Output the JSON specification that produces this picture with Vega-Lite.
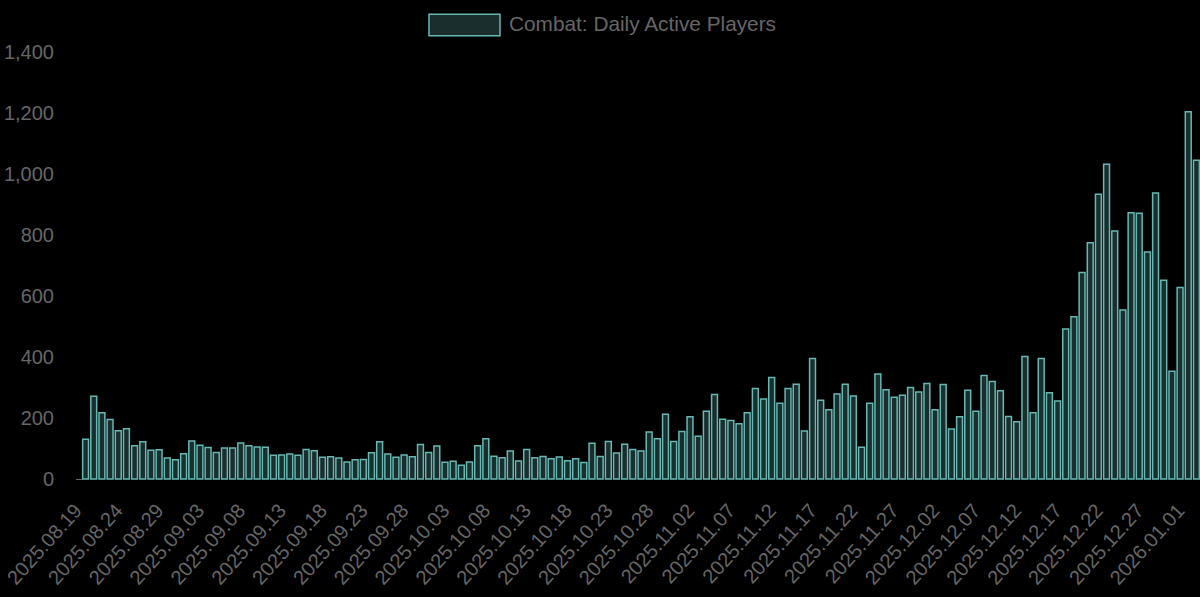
{
  "$schema": "https://vega.github.io/schema/vega-lite/v6.json",
  "width": 1119,
  "height": 427,
  "autosize": "none",
  "padding": {"left": 81.5, "top": 52, "right": 0, "bottom": 118},
  "background": "#000000",
  "config": {"view": {"stroke": null}},
  "data": {"values": [
    {"day":"2025.08.19","players":130},{"day":"2025.08.20","players":271},{"day":"2025.08.21","players":217},{"day":"2025.08.22","players":195},{"day":"2025.08.23","players":158},{"day":"2025.08.24","players":165},{"day":"2025.08.25","players":109},{"day":"2025.08.26","players":122},{"day":"2025.08.27","players":94},{"day":"2025.08.28","players":96},{"day":"2025.08.29","players":69},{"day":"2025.08.30","players":63},{"day":"2025.08.31","players":83},
    {"day":"2025.09.01","players":125},{"day":"2025.09.02","players":111},{"day":"2025.09.03","players":103},{"day":"2025.09.04","players":87},{"day":"2025.09.05","players":102},{"day":"2025.09.06","players":102},{"day":"2025.09.07","players":118},{"day":"2025.09.08","players":109},{"day":"2025.09.09","players":105},{"day":"2025.09.10","players":104},{"day":"2025.09.11","players":78},{"day":"2025.09.12","players":79},{"day":"2025.09.13","players":82},{"day":"2025.09.14","players":78},{"day":"2025.09.15","players":97},{"day":"2025.09.16","players":93},{"day":"2025.09.17","players":71},{"day":"2025.09.18","players":73},{"day":"2025.09.19","players":69},{"day":"2025.09.20","players":56},{"day":"2025.09.21","players":63},{"day":"2025.09.22","players":64},{"day":"2025.09.23","players":86},{"day":"2025.09.24","players":122},{"day":"2025.09.25","players":82},{"day":"2025.09.26","players":71},{"day":"2025.09.27","players":79},{"day":"2025.09.28","players":73},{"day":"2025.09.29","players":113},{"day":"2025.09.30","players":87},
    {"day":"2025.10.01","players":108},{"day":"2025.10.02","players":55},{"day":"2025.10.03","players":58},{"day":"2025.10.04","players":45},{"day":"2025.10.05","players":56},{"day":"2025.10.06","players":109},{"day":"2025.10.07","players":132},{"day":"2025.10.08","players":75},{"day":"2025.10.09","players":70},{"day":"2025.10.10","players":92},{"day":"2025.10.11","players":59},{"day":"2025.10.12","players":97},{"day":"2025.10.13","players":70},{"day":"2025.10.14","players":74},{"day":"2025.10.15","players":66},{"day":"2025.10.16","players":72},{"day":"2025.10.17","players":60},{"day":"2025.10.18","players":66},{"day":"2025.10.19","players":54},{"day":"2025.10.20","players":117},{"day":"2025.10.21","players":74},{"day":"2025.10.22","players":123},{"day":"2025.10.23","players":85},{"day":"2025.10.24","players":114},{"day":"2025.10.25","players":97},{"day":"2025.10.26","players":92},{"day":"2025.10.27","players":154},{"day":"2025.10.28","players":132},{"day":"2025.10.29","players":212},{"day":"2025.10.30","players":123},{"day":"2025.10.31","players":156},
    {"day":"2025.11.01","players":204},{"day":"2025.11.02","players":140},{"day":"2025.11.03","players":222},{"day":"2025.11.04","players":277},{"day":"2025.11.05","players":196},{"day":"2025.11.06","players":192},{"day":"2025.11.07","players":181},{"day":"2025.11.08","players":217},{"day":"2025.11.09","players":297},{"day":"2025.11.10","players":262},{"day":"2025.11.11","players":333},{"day":"2025.11.12","players":248},{"day":"2025.11.13","players":297},{"day":"2025.11.14","players":311},{"day":"2025.11.15","players":157},{"day":"2025.11.16","players":395},{"day":"2025.11.17","players":258},{"day":"2025.11.18","players":227},{"day":"2025.11.19","players":279},{"day":"2025.11.20","players":311},{"day":"2025.11.21","players":272},{"day":"2025.11.22","players":104},{"day":"2025.11.23","players":248},{"day":"2025.11.24","players":344},{"day":"2025.11.25","players":293},{"day":"2025.11.26","players":268},{"day":"2025.11.27","players":275},{"day":"2025.11.28","players":300},{"day":"2025.11.29","players":285},{"day":"2025.11.30","players":313},
    {"day":"2025.12.01","players":227},{"day":"2025.12.02","players":310},{"day":"2025.12.03","players":164},{"day":"2025.12.04","players":204},{"day":"2025.12.05","players":291},{"day":"2025.12.06","players":222},{"day":"2025.12.07","players":339},{"day":"2025.12.08","players":320},{"day":"2025.12.09","players":289},{"day":"2025.12.10","players":205},{"day":"2025.12.11","players":188},{"day":"2025.12.12","players":402},{"day":"2025.12.13","players":217},{"day":"2025.12.14","players":395},{"day":"2025.12.15","players":283},{"day":"2025.12.16","players":256},{"day":"2025.12.17","players":492},{"day":"2025.12.18","players":532},{"day":"2025.12.19","players":677},{"day":"2025.12.20","players":775},{"day":"2025.12.21","players":934},{"day":"2025.12.22","players":1032},{"day":"2025.12.23","players":813},{"day":"2025.12.24","players":554},{"day":"2025.12.25","players":873},{"day":"2025.12.26","players":871},{"day":"2025.12.27","players":744},{"day":"2025.12.28","players":938},{"day":"2025.12.29","players":652},{"day":"2025.12.30","players":353},{"day":"2025.12.31","players":628},
    {"day":"2026.01.01","players":1204},{"day":"2026.01.02","players":1045}
  ]},
  "mark": {"type": "bar", "strokeWidth": 1.5, "clip": false},
  "encoding": {
    "x": {
      "field": "day",
      "type": "ordinal",
      "sort": null,
      "title": null,
      "scale": {"paddingInner": 0.28, "paddingOuter": 0.14},
      "axis": {
        "values": ["2025.08.19","2025.08.24","2025.08.29","2025.09.03","2025.09.08","2025.09.13","2025.09.18","2025.09.23","2025.09.28","2025.10.03","2025.10.08","2025.10.13","2025.10.18","2025.10.23","2025.10.28","2025.11.02","2025.11.07","2025.11.12","2025.11.17","2025.11.22","2025.11.27","2025.12.02","2025.12.07","2025.12.12","2025.12.17","2025.12.22","2025.12.27","2026.01.01"],
        "domain": false,
        "ticks": false,
        "grid": false,
        "labelAngle": -48,
        "labelAlign": "right",
        "labelBaseline": "middle",
        "labelPadding": 28,
        "labelOffset": -7,
        "labelOverlap": false,
        "labelBound": false,
        "labelFont": "Liberation Sans",
        "labelFontSize": 20,
        "labelColor": "#666666"
      }
    },
    "y": {
      "field": "players",
      "type": "quantitative",
      "title": null,
      "scale": {"domain": [0, 1400], "nice": false},
      "axis": {
        "values": [0, 200, 400, 600, 800, 1000, 1200, 1400],
        "format": ",.0f",
        "domain": false,
        "grid": false,
        "tickSize": 6,
        "tickColor": {"expr": "datum.value == 0 ? '#666666' : '#000000'"},
        "labelPadding": 22,
        "labelFont": "Liberation Sans",
        "labelFontSize": 20,
        "labelColor": "#666666"
      }
    },
    "fill": {
      "datum": "Combat: Daily Active Players",
      "scale": {"range": ["#1a2e2e"]},
      "legend": {
        "title": null,
        "orient": "none",
        "legendX": 346.5,
        "legendY": -63.5,
        "symbolType": "M-1,-0.305H1V0.305H-1Z",
        "symbolSize": 5041,
        "symbolStrokeWidth": 1.5,
        "labelFont": "Liberation Sans",
        "labelFontSize": 20.8,
        "labelColor": "#666666",
        "labelOffset": 8,
        "labelLimit": 400
      }
    },
    "stroke": {
      "datum": "Combat: Daily Active Players",
      "scale": {"range": ["#66b8b3"]}
    }
  }
}
